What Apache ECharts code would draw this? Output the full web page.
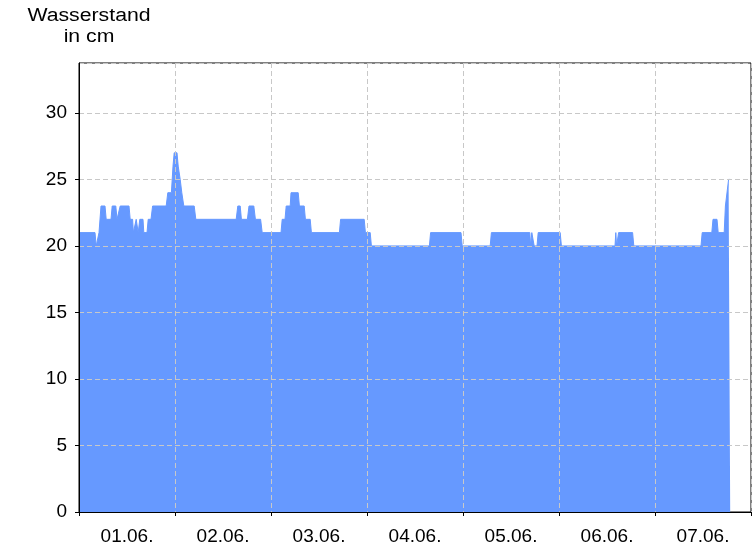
<!DOCTYPE html>
<html lang="de">
  <head>
    <meta charset="UTF-8" />
    <title>Wasserstand</title>
    <script src="https://cdn.jsdelivr.net/npm/echarts@6/dist/echarts.min.js"></script>
    <style>
      html, body { margin: 0; padding: 0; background: #fff; }
    </style>
  </head>
  <body>
    <div id="main" style="width: 756px; height: 546px"></div>
    <script type="text/javascript">
      // day labels (each day = 24 h band on the x axis)
      const days = ["01.06.", "02.06.", "03.06.", "04.06.", "05.06.", "06.06.", "07.06."];
      const yTicks = [0, 5, 10, 15, 20, 25, 30];

      // readings: hours since 01.06. 00:00 and water level in cm
      const hours = [
        0, 4.0, 4.3, 4.7, 5.0, 5.5, 5.8, 6.5, 6.8, 8.0, 8.3, 9.2, 9.5, 10.0,
        10.3, 12.5, 12.8, 13.4, 13.6, 14.1, 14.3, 14.6, 14.8, 15.0, 15.2, 16.0,
        16.2, 17.0, 17.3, 18.0, 18.4, 21.8, 22.2, 23.1, 23.5, 23.8, 24.5, 24.8,
        25.3, 25.7, 26.2, 28.8, 29.2, 39.3, 39.7, 40.3, 40.6, 42.1, 42.5, 43.7,
        44.1, 45.4, 45.8,
        50.5, 50.8, 51.5, 51.8, 52.8, 53.0, 54.8, 55.1, 56.3, 56.6, 57.8, 58.1,
        65.1, 65.4, 71.3, 71.6, 72.8, 73.1, 87.6, 87.9,
        95.5, 95.8, 102.8, 103.1, 112.7, 112.9, 113.2, 113.6, 113.8, 114.5,
        114.8, 120.3, 120.6, 134.0, 134.2, 134.4, 134.6, 134.9, 135.1, 138.4,
        138.7, 155.5, 155.8, 158.2, 158.5, 159.5, 159.8, 161.3, 161.6, 161.8,
        162.4, 162.8
      ];
      const levels = [
        21, 21, 20, 20, 21, 23, 23, 23, 22, 22, 23, 23, 22, 22,
        23, 23, 22, 22, 21, 21, 22, 22, 21, 21, 22, 22,
        21, 21, 22, 22, 23, 23, 24, 24, 26, 27, 27, 26,
        25, 24, 23, 23, 22, 22, 23, 23, 22, 22, 23, 23,
        22, 22, 21,
        21, 22, 22, 23, 23, 24, 24, 23, 23, 22, 22, 21,
        21, 22, 22, 21, 21, 20, 20, 21,
        21, 20, 20, 21, 21, 20, 21, 21, 20, 20,
        21, 21, 20, 20, 21, 20, 20, 21, 21, 21,
        20, 20, 21, 21, 22, 22, 21, 21, 23, 23,
        25, 25
      ];

      const seriesData = hours.map((h, i) => [h, levels[i]]);

      const font = "Liberation Sans, Arial, sans-serif";
      const dashed = { color: "#c8c8c8", type: [5, 3], width: 1 };

      let myChart = echarts.init(document.getElementById("main"));
      myChart.setOption({
        animation: false,
        backgroundColor: "#fff",
        graphic: [
          {
            // axis caption, drawn a little wider like the original
            type: "text",
            x: 89,
            y: 6,
            scaleX: 1.18,
            style: {
              text: "Wasserstand\nin cm",
              align: "center",
              verticalAlign: "top",
              fontFamily: font,
              fontSize: 18,
              lineHeight: 21,
              fill: "#000",
            },
          },
        ],
        grid: {
          left: 79,
          top: 63,
          right: 5,
          bottom: 34,
          show: true,
          borderColor: "#000",
          borderWidth: 1,
          backgroundColor: "transparent",
        },
        xAxis: [
          {
            type: "value",
            min: 0,
            max: 168,
            interval: 24,
            z: 5,
            axisLine: { show: true, lineStyle: { color: "#000" } },
            axisTick: { show: true, length: 4, lineStyle: { color: "#000" } },
            axisLabel: { show: false },
            splitLine: { show: true, lineStyle: dashed },
          },
          {
            type: "category",
            data: days,
            position: "bottom",
            boundaryGap: true,
            axisLine: { show: false },
            axisTick: { show: false },
            splitLine: { show: false },
            axisLabel: { color: "#000", fontFamily: font, fontSize: 19, margin: 15 },
          },
        ],
        yAxis: {
          type: "value",
          min: 0,
          max: 33.75,
          interval: 5,
          z: 5,
          axisLine: { show: true, lineStyle: { color: "#000" } },
          axisTick: { show: true, length: 4, lineStyle: { color: "#000" } },
          axisLabel: {
            color: "#000",
            fontFamily: font,
            fontSize: 19,
            margin: 12,
            showMaxLabel: false,
          },
          splitLine: { show: true, lineStyle: dashed },
        },
        series: [
          {
            name: "Wasserstand",
            type: "line",
            xAxisIndex: 0,
            data: seriesData,
            showSymbol: false,
            symbol: "none",
            z: 2,
            lineStyle: { color: "#6699ff", width: 1 },
            areaStyle: { color: "#6699ff", opacity: 1 },
          },
        ],
      });
    </script>
  </body>
</html>
